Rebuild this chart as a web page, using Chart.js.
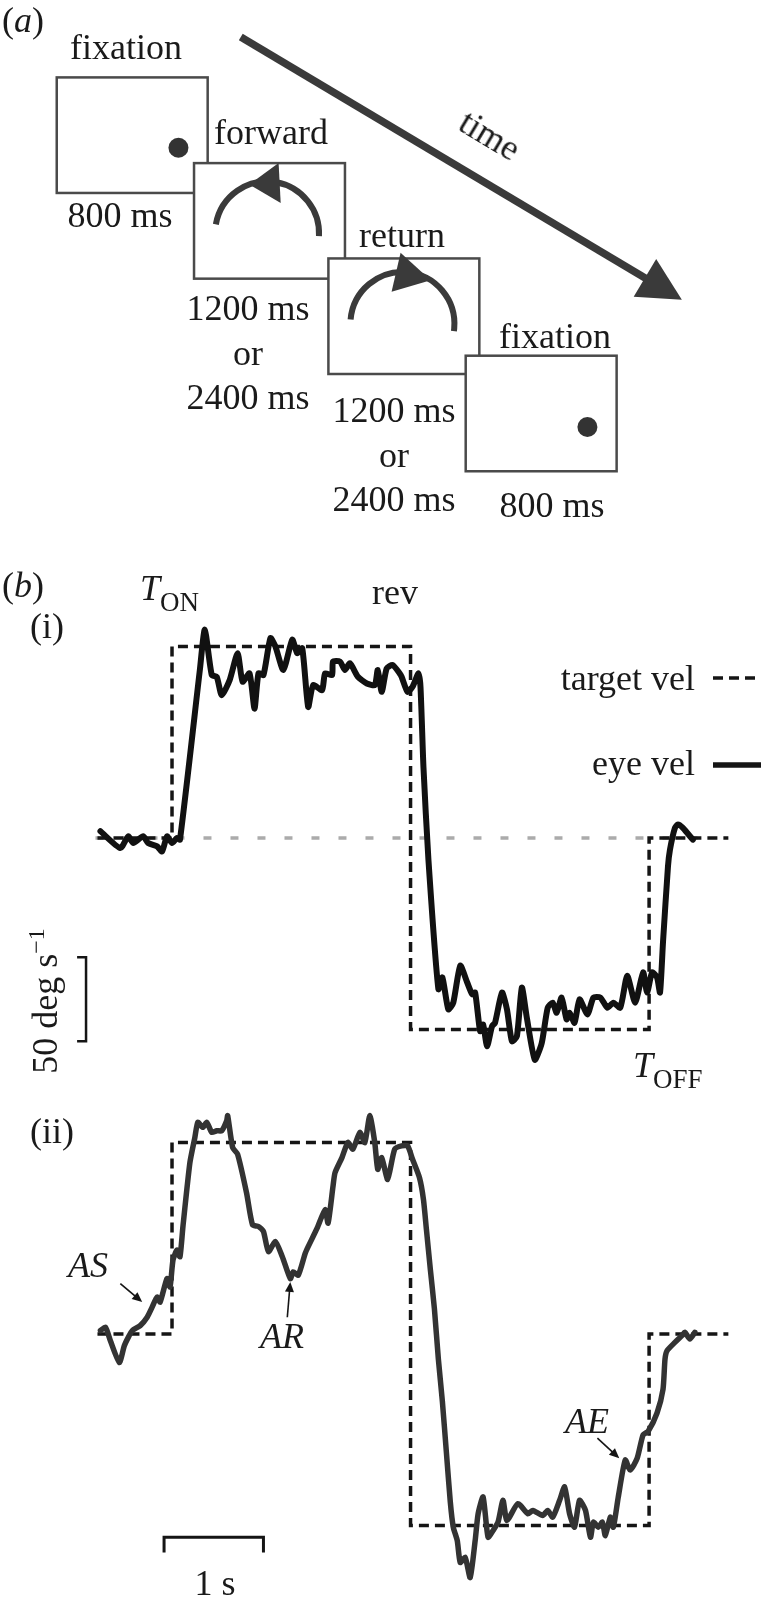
<!DOCTYPE html>
<html>
<head>
<meta charset="utf-8">
<script src="https://cdn.jsdelivr.net/npm/chart.js@4.4.0/dist/chart.umd.min.js"></script>
<style>
  html, body { margin: 0; padding: 0; background: #fff; }
  #page { position: relative; width: 761px; height: 1604px; overflow: hidden; background: #fff; }
  #page canvas { position: absolute; left: 0; }
  .lbl { position: absolute; font-family: 'Liberation Serif', 'DejaVu Serif', serif; font-size: 36px;
         line-height: 36px; color: #1a1a1a; white-space: nowrap; }
  .sub { font-size: 27px; line-height: 1; position: relative; top: 11px; }
  .sup { font-size: 24px; line-height: 1; position: relative; top: -13px; }
</style>
</head>
<body>
<div id="page">
  <canvas id="panelA" width="761" height="540" style="top:0"></canvas>
  <canvas id="panelB1" width="761" height="504" style="top:586px"></canvas>
  <canvas id="panelB2" width="761" height="504" style="top:1082px"></canvas>
</div>
<script>
// ---- panel (a): trial sequence
const phaseNames = ['fixation', 'forward', 'return', 'fixation'];
const phaseDurations = [['800 ms'], ['1200 ms', 'or', '2400 ms'], ['1200 ms', 'or', '2400 ms'], ['800 ms']];

// ---- panel (b): velocity traces, [time (s), velocity (deg/s)]
const targetSwitchTimes = [0.05, 0.8, 3.2, 5.6, 6.4];
const targetLevels = [0, 114, -114, 0];

const eyeVelTrial1 = [
  [0.08, 4], [0.28, -6], [0.36, 1], [0.41, -3], [0.51, 1], [0.56, -3], [0.65, -5], [0.70, -8],
  [0.75, 1], [0.80, -3], [0.85, 0], [0.88, -1], [1.08, 100], [1.13, 124], [1.20, 97], [1.25, 96],
  [1.30, 85], [1.38, 94], [1.46, 110], [1.51, 93], [1.58, 98], [1.63, 77], [1.67, 98], [1.72, 97],
  [1.79, 119], [1.84, 114], [1.92, 100], [2.01, 118], [2.06, 110], [2.11, 113], [2.17, 78], [2.22, 91],
  [2.31, 88], [2.34, 98], [2.41, 97], [2.42, 105], [2.49, 105], [2.54, 100], [2.59, 104], [2.67, 96],
  [2.76, 92], [2.84, 91], [2.87, 100], [2.91, 87], [2.96, 101], [3.02, 103], [3.09, 98], [3.11, 96],
  [3.17, 87], [3.22, 90], [3.28, 98], [3.30, 90], [3.33, 42], [3.38, -13], [3.48, -90], [3.52, -83],
  [3.58, -102], [3.63, -98], [3.70, -76], [3.77, -86], [3.82, -93], [3.85, -92], [3.90, -115], [3.93, -111],
  [3.97, -124], [4.02, -112], [4.05, -110], [4.12, -92], [4.17, -102], [4.22, -121], [4.27, -118], [4.32, -89],
  [4.37, -107], [4.45, -132], [4.52, -122], [4.58, -101], [4.63, -98], [4.67, -104], [4.72, -95], [4.77, -108],
  [4.80, -104], [4.85, -110], [4.90, -96], [4.98, -105], [5.04, -95], [5.11, -95], [5.18, -101], [5.24, -98],
  [5.31, -101], [5.38, -82], [5.46, -98], [5.54, -80], [5.58, -92], [5.63, -80], [5.68, -83], [5.71, -92],
  [5.74, -62], [5.79, -17], [5.81, -7], [5.86, 6], [5.89, 8], [5.94, 6], [6.04, -1]
];

const eyeVelTrial2 = [
  [0.08, 2], [0.13, 4], [0.18, -4], [0.27, -17], [0.32, -7], [0.36, -2], [0.40, 2], [0.48, 5],
  [0.55, 10], [0.60, 16], [0.65, 22], [0.68, 19], [0.75, 33], [0.78, 28], [0.81, 44], [0.85, 50],
  [0.88, 46], [0.91, 64], [0.98, 102], [1.03, 117], [1.06, 126], [1.11, 123], [1.15, 126], [1.20, 120],
  [1.25, 121], [1.30, 121], [1.35, 127], [1.36, 130], [1.41, 111], [1.46, 107], [1.55, 84], [1.61, 65],
  [1.67, 64], [1.72, 61], [1.77, 49], [1.84, 55], [1.91, 46], [1.99, 33], [2.02, 37], [2.07, 35],
  [2.14, 48], [2.17, 52], [2.26, 63], [2.34, 74], [2.37, 66], [2.42, 88], [2.44, 96], [2.51, 105],
  [2.57, 114], [2.62, 110], [2.69, 120], [2.74, 114], [2.79, 130], [2.84, 114], [2.87, 98], [2.91, 105],
  [2.97, 92], [3.04, 110], [3.11, 112], [3.17, 112], [3.22, 104], [3.29, 93], [3.33, 80], [3.36, 62],
  [3.40, 38], [3.44, 15], [3.48, -15], [3.52, -40], [3.56, -70], [3.60, -100], [3.63, -115], [3.67, -123],
  [3.70, -136], [3.75, -133], [3.80, -145], [3.85, -123], [3.88, -107], [3.93, -97], [3.98, -121], [4.03, -117],
  [4.08, -112], [4.13, -99], [4.17, -111], [4.28, -101], [4.38, -107], [4.43, -105], [4.53, -108], [4.58, -105],
  [4.63, -109], [4.70, -99], [4.75, -91], [4.80, -107], [4.85, -115], [4.90, -99], [4.96, -105], [5.01, -121],
  [5.04, -112], [5.09, -115], [5.13, -112], [5.16, -120], [5.21, -109], [5.24, -115], [5.29, -97], [5.36, -75],
  [5.41, -81], [5.48, -74], [5.54, -60], [5.59, -58], [5.68, -47], [5.74, -33], [5.76, -15], [5.78, -10],
  [5.86, -5], [5.93, -1], [5.96, 1], [6.01, -3], [6.06, 1]
];

const scaleBarVel = 50;   // deg/s
const scaleBarTime = 1;   // s

// ---- layout of the schematic (canvas units of panel a)
const frames = [{ l: 48, t: 70 }, { l: 189, t: 159 }, { l: 327, t: 258 }, { l: 468, t: 359 }];
const FRAME_W = 155, FRAME_H = 120;
const fixDots = [{ x: 173, y: 143 }, { x: 593, y: 433 }];
const motionArcs = [
  { cx: 264, cy: 232, r: 52, from: 190, to: 363, base: 284, tip: 250 },
  { cx: 403, cy: 326, r: 52, from: 185, to: 368, base: 263, tip: 303 }
];
const timeArrow = { from: { x: 237, y: 28 }, to: { x: 690, y: 301 } };
const nameAt = [[126, 59], [271, 144], [402, 247], [555, 348]];
const durAt = [[120, 227], [248, 320], [394, 422], [552, 517]];

const INK = '#151515';
const DARK = '#3a3a3a';
const rad = d => d * Math.PI / 180;

function triangle(ctx, tip, base, half) {
  const a = Math.atan2(tip.y - base.y, tip.x - base.x);
  ctx.beginPath();
  ctx.moveTo(tip.x, tip.y);
  ctx.lineTo(base.x + half * Math.sin(a), base.y - half * Math.cos(a));
  ctx.lineTo(base.x - half * Math.sin(a), base.y + half * Math.cos(a));
  ctx.closePath();
  ctx.fill();
}

function arrowBetween(ctx, p0, p1, len, half, width) {
  const a = Math.atan2(p1.y - p0.y, p1.x - p0.x);
  const base = { x: p1.x - len * Math.cos(a), y: p1.y - len * Math.sin(a) };
  ctx.lineWidth = width;
  ctx.beginPath();
  ctx.moveTo(p0.x, p0.y);
  ctx.lineTo(base.x + 2 * Math.cos(a), base.y + 2 * Math.sin(a));
  ctx.stroke();
  triangle(ctx, p1, base, half);
}

// ---- panel (a)
const ta = timeArrow.from, tb = timeArrow.to;
const taLen = Math.hypot(tb.x - ta.x, tb.y - ta.y);
const shaftEnd = { x: tb.x - (tb.x - ta.x) * 30 / taLen, y: tb.y - (tb.y - ta.y) * 30 / taLen };

const schematicPlugin = {
  id: 'schematic',
  beforeDatasetsDraw(chart) {
    const { ctx, scales: { x, y } } = chart;
    ctx.save();
    ctx.lineWidth = 2.5;
    ctx.strokeStyle = '#4a4a4a';
    ctx.fillStyle = '#fff';
    frames.forEach(f => {
      const x0 = x.getPixelForValue(f.l), y0 = y.getPixelForValue(f.t);
      const x1 = x.getPixelForValue(f.l + FRAME_W), y1 = y.getPixelForValue(f.t + FRAME_H);
      ctx.fillRect(x0, y0, x1 - x0, y1 - y0);
      ctx.strokeRect(x0, y0, x1 - x0, y1 - y0);
    });
    ctx.restore();
  },
  afterDatasetsDraw(chart) {
    const { ctx, scales: { x, y } } = chart;
    ctx.save();
    ctx.strokeStyle = DARK;
    ctx.fillStyle = DARK;
    motionArcs.forEach(m => {
      const cx = x.getPixelForValue(m.cx), cy = y.getPixelForValue(m.cy);
      ctx.lineWidth = 6;
      ctx.beginPath();
      ctx.arc(cx, cy, m.r, rad(m.from), rad(m.to));
      ctx.stroke();
      const tip = { x: cx + m.r * Math.cos(rad(m.tip)), y: cy + m.r * Math.sin(rad(m.tip)) };
      const base = { x: cx + m.r * Math.cos(rad(m.base)), y: cy + m.r * Math.sin(rad(m.base)) };
      triangle(ctx, tip, base, 20);
    });
    // time arrow head
    const tip = { x: x.getPixelForValue(tb.x), y: y.getPixelForValue(tb.y) };
    const from = { x: x.getPixelForValue(ta.x), y: y.getPixelForValue(ta.y) };
    const a = Math.atan2(tip.y - from.y, tip.x - from.x);
    triangle(ctx, tip, { x: tip.x - 43 * Math.cos(a), y: tip.y - 43 * Math.sin(a) }, 22);
    ctx.restore();
  }
};

new Chart(document.getElementById('panelA'), {
  type: 'scatter',
  data: {
    datasets: [
      { data: [ta, shaftEnd], showLine: true, borderColor: DARK, borderWidth: 7.5, pointRadius: 0 },
      { data: fixDots, pointRadius: 10, backgroundColor: '#333', borderWidth: 0 }
    ]
  },
  options: {
    responsive: false, animation: false, events: [],
    layout: { padding: 0 },
    scales: {
      x: { type: 'linear', min: 0, max: 761, display: false },
      y: { type: 'linear', min: 0, max: 540, reverse: true, display: false }
    },
    plugins: { legend: { display: false }, tooltip: { enabled: false } }
  },
  plugins: [schematicPlugin]
});

// ---- panel (b)
function targetSeries() {
  const pts = [];
  targetLevels.forEach((v, i) => {
    pts.push({ x: targetSwitchTimes[i], y: v });
    pts.push({ x: targetSwitchTimes[i + 1], y: v });
  });
  return pts;
}
const toPoints = arr => arr.map(([t, v]) => ({ x: t, y: v }));

function traceOptions() {
  return {
    responsive: false, animation: false, events: [],
    layout: { padding: { left: 92.5, right: 32.4, top: 0, bottom: 0 } },
    scales: {
      x: { type: 'linear', min: 0, max: 6.4, display: false },
      y: { type: 'linear', min: -150, max: 150, display: false }
    },
    plugins: { legend: { display: false }, tooltip: { enabled: false } }
  };
}

const targetDataset = () => ({
  data: targetSeries(), borderColor: INK, borderWidth: 3.5, borderDash: [10, 6],
  pointRadius: 0, tension: 0
});

const trial1Extras = {
  id: 'trial1Extras',
  afterDatasetsDraw(chart) {
    const { ctx, scales: { x, y } } = chart;
    ctx.save();
    ctx.strokeStyle = INK;
    // vertical velocity scale bar
    const bx = x.getPixelForValue(-0.065), tx = x.getPixelForValue(-0.155);
    const y0 = y.getPixelForValue(-71), y1 = y.getPixelForValue(-71 - scaleBarVel);
    ctx.lineWidth = 2.5;
    ctx.beginPath();
    ctx.moveTo(tx, y0); ctx.lineTo(bx, y0); ctx.lineTo(bx, y1); ctx.lineTo(tx, y1);
    ctx.stroke();
    // legend samples
    ctx.lineWidth = 3.5;
    ctx.setLineDash([10, 6]);
    ctx.beginPath(); ctx.moveTo(713, 92); ctx.lineTo(761, 92); ctx.stroke();
    ctx.setLineDash([]);
    ctx.lineWidth = 5.5;
    ctx.beginPath(); ctx.moveTo(713, 179); ctx.lineTo(761, 179); ctx.stroke();
    ctx.restore();
  }
};

new Chart(document.getElementById('panelB1'), {
  type: 'line',
  data: {
    datasets: [
      { data: toPoints(eyeVelTrial1), borderColor: '#111', borderWidth: 6, pointRadius: 0,
        tension: 0.2, borderJoinStyle: 'round', borderCapStyle: 'round' },
      targetDataset(),
      { data: [{ x: 0.03, y: 0 }, { x: 6.18, y: 0 }], borderColor: '#ababab', borderWidth: 3.5,
        borderDash: [8, 19], pointRadius: 0 }
    ]
  },
  options: traceOptions(),
  plugins: [trial1Extras]
});

const annotations = [
  { from: [0.28, 30], to: [0.50, 19] },
  { from: [1.96, 10], to: [1.99, 31] },
  { from: [5.08, -62], to: [5.30, -74] }
];

const trial2Extras = {
  id: 'trial2Extras',
  afterDatasetsDraw(chart) {
    const { ctx, scales: { x, y } } = chart;
    ctx.save();
    ctx.strokeStyle = INK;
    ctx.fillStyle = INK;
    // horizontal time scale bar
    const x0 = x.getPixelForValue(0.72), x1 = x.getPixelForValue(0.72 + scaleBarTime);
    const yb = y.getPixelForValue(-121), yt = y.getPixelForValue(-130);
    ctx.lineWidth = 3;
    ctx.beginPath();
    ctx.moveTo(x0, yt); ctx.lineTo(x0, yb); ctx.lineTo(x1, yb); ctx.lineTo(x1, yt);
    ctx.stroke();
    annotations.forEach(a => {
      const p0 = { x: x.getPixelForValue(a.from[0]), y: y.getPixelForValue(a.from[1]) };
      const p1 = { x: x.getPixelForValue(a.to[0]), y: y.getPixelForValue(a.to[1]) };
      arrowBetween(ctx, p0, p1, 10, 4.5, 1.6);
    });
    ctx.restore();
  }
};

new Chart(document.getElementById('panelB2'), {
  type: 'line',
  data: {
    datasets: [
      { data: toPoints(eyeVelTrial2), borderColor: '#333', borderWidth: 5.5, pointRadius: 0,
        tension: 0.2, borderJoinStyle: 'round', borderCapStyle: 'round' },
      targetDataset()
    ]
  },
  options: traceOptions(),
  plugins: [trial2Extras]
});

// ---- text
const page = document.getElementById('page');
function addLabel(html, x, baseline, anchor) {
  const el = document.createElement('div');
  el.className = 'lbl';
  el.innerHTML = html;
  el.style.left = x + 'px';
  el.style.top = (baseline - 30) + 'px';
  const shift = { start: '0', middle: '-50%', end: '-100%' }[anchor || 'start'];
  el.style.transform = 'translateX(' + shift + ')';
  page.appendChild(el);
}
function addRotated(html, cx, cy, deg) {
  const el = document.createElement('div');
  el.className = 'lbl';
  el.innerHTML = html;
  el.style.left = cx + 'px';
  el.style.top = cy + 'px';
  el.style.transform = 'translate(-50%, -50%) rotate(' + deg + 'deg)';
  page.appendChild(el);
}

addLabel('(<i>a</i>)', 2, 32);
phaseNames.forEach((n, i) => addLabel(n, nameAt[i][0], nameAt[i][1], 'middle'));
phaseDurations.forEach((lines, i) => {
  lines.forEach((s, j) => addLabel(s, durAt[i][0], durAt[i][1] + j * 44.5, 'middle'));
});
addRotated('time', 490, 135, 31);

addLabel('(<i>b</i>)', 2, 597);
addLabel('(i)', 30, 638);
addLabel('<i>T</i><span class="sub">ON</span>', 140, 600);
addLabel('rev', 372, 604);
addLabel('target vel', 695, 690, 'end');
addLabel('eye vel', 695, 775, 'end');
addRotated('50 deg s<span class="sup">\u22121</span>', 45, 1001, -90);
addLabel('<i>T</i><span class="sub">OFF</span>', 633, 1077);
addLabel('(ii)', 30, 1143);
addLabel('<i>AS</i>', 68, 1277);
addLabel('<i>AR</i>', 260, 1348);
addLabel('<i>AE</i>', 565, 1433);
addLabel(scaleBarTime + ' s', 215, 1595, 'middle');
</script>
</body>
</html>
